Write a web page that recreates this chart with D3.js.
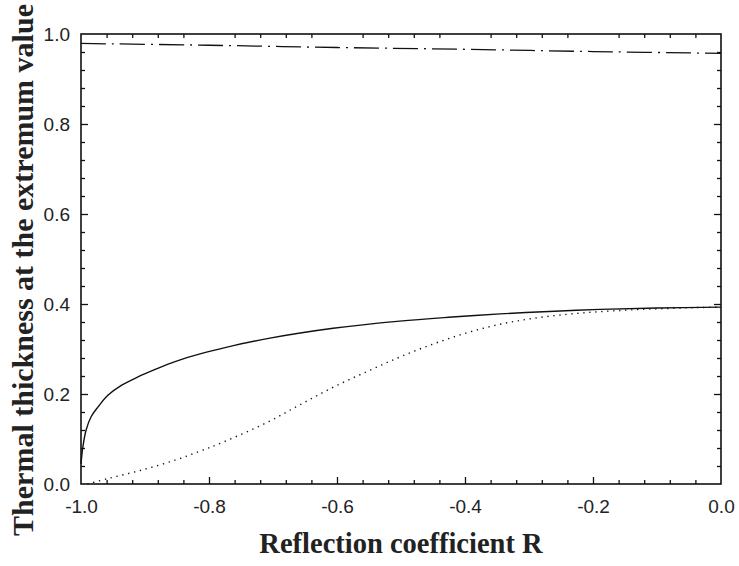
<!DOCTYPE html>
<html>
<head>
<meta charset="utf-8">
<script src="https://cdn.jsdelivr.net/npm/d3@7"></script>
<style>
  body { margin: 0; background: #fff; }
  svg { display: block; }
</style>
</head>
<body>
<script>
// data
const solidR = [-1.0, -0.997, -0.992, -0.984, -0.973, -0.958, -0.937, -0.911, -0.885, -0.853, -0.814, -0.775, -0.709, -0.606, -0.502, -0.42, -0.345, -0.26, -0.189, -0.1, 0.0]
const solidT = [0.045, 0.083, 0.12, 0.150, 0.172, 0.197, 0.219, 0.238, 0.254, 0.272, 0.289, 0.303, 0.323, 0.346, 0.362, 0.371, 0.378, 0.384, 0.388, 0.391, 0.393]

const dotR = [-0.99, -0.958, -0.905, -0.853, -0.814, -0.778, -0.709, -0.658, -0.606, -0.553, -0.502, -0.45, -0.397, -0.345, -0.294, -0.241, -0.189, -0.138, -0.084, -0.04, 0.0]
const dotT = [0.0, 0.012, 0.031, 0.053, 0.073, 0.093, 0.137, 0.176, 0.215, 0.250, 0.282, 0.311, 0.336, 0.355, 0.368, 0.377, 0.383, 0.387, 0.390, 0.392, 0.393]

const dashR = [-1.0, -0.8, -0.6, -0.4, -0.2, 0.0]
const dashT = [0.979, 0.975, 0.970, 0.966, 0.961, 0.957]

const xTicks = [-1.0, -0.8, -0.6, -0.4, -0.2, 0.0]
const yTicks = [0.0, 0.2, 0.4, 0.6, 0.8, 1.0]

const outerWidth = 739
const outerHeight = 566
const margin = { top: 34, right: 18, bottom: 82, left: 81 }

const svg = d3.select('body')
  .append('svg')
  .attr('width', outerWidth)
  .attr('height', outerHeight)

const xScale = d3.scaleLinear()
  .domain([-1, 0])
  .range([margin.left, outerWidth - margin.right])

const yScale = d3.scaleLinear()
  .domain([0, 1])
  .range([outerHeight - margin.bottom, margin.top])

const minorX = d3.range(-1, 0.0001, 0.04).map(v => +v.toFixed(2)).filter(v => !xTicks.some(t => Math.abs(t - v) < 1e-6))
const minorY = d3.range(0, 1.0001, 0.04).map(v => +v.toFixed(2)).filter(v => !yTicks.some(t => Math.abs(t - v) < 1e-6))

const tickFont = '"Liberation Sans", Arial, sans-serif'
const fmt = d => d.toFixed(1)
const xB = outerHeight - margin.bottom
const yL = margin.left
const xR = outerWidth - margin.right
const yT = margin.top

// bottom axis: labels + inward ticks
const bottom = svg.append('g').attr('transform', `translate(0,${xB})`)
bottom.call(d3.axisBottom(xScale).tickValues(xTicks).tickSize(-7).tickPadding(16).tickFormat(fmt))
bottom.selectAll('.tick').filter(d => d === -1 || d === 0).select('line').remove()
bottom.append('g').call(d3.axisBottom(xScale).tickValues(minorX).tickSize(-4).tickFormat(''))

// left axis
const left = svg.append('g').attr('transform', `translate(${yL},0)`)
left.call(d3.axisLeft(yScale).tickValues(yTicks).tickSize(-7).tickPadding(11).tickFormat(fmt))
left.selectAll('.tick').filter(d => d === 0 || d === 1).select('line').remove()
left.append('g').call(d3.axisLeft(yScale).tickValues(minorY).tickSize(-4).tickFormat(''))

// top axis: minor ticks only
svg.append('g').attr('transform', `translate(0,${yT})`)
  .call(d3.axisTop(xScale).tickValues(minorX).tickSize(-4).tickFormat(''))

// right axis
const right = svg.append('g').attr('transform', `translate(${xR},0)`)
right.call(d3.axisRight(yScale).tickValues(yTicks.filter(d => d > 0 && d < 1)).tickSize(-7).tickFormat(''))
right.append('g').call(d3.axisRight(yScale).tickValues(minorY).tickSize(-4).tickFormat(''))

svg.selectAll('.domain').remove()
svg.selectAll('.tick line').attr('stroke', '#111').attr('stroke-width', 1.3)
svg.selectAll('.tick text')
  .style('font-family', tickFont)
  .style('font-size', '19px')
  .attr('fill', '#222')

// frame
svg.append('rect')
  .attr('x', yL).attr('y', yT)
  .attr('width', xR - yL).attr('height', xB - yT)
  .attr('fill', 'none').attr('stroke', '#111').attr('stroke-width', 1.6)

// curves
const line = d3.line()
  .x(d => xScale(d[0]))
  .y(d => yScale(d[1]))
  .curve(d3.curveCatmullRom.alpha(0.5))

svg.append('path')
  .datum(solidR.map((r, i) => [r, solidT[i]]))
  .attr('d', line)
  .attr('fill', 'none')
  .attr('stroke', '#111')
  .attr('stroke-width', 1.4)

svg.append('path')
  .datum(dotR.map((r, i) => [r, dotT[i]]))
  .attr('d', line)
  .attr('fill', 'none')
  .attr('stroke', '#111')
  .attr('stroke-width', 1.4)
  .attr('stroke-dasharray', '1.3,4.7')

svg.append('path')
  .datum(dashR.map((r, i) => [r, dashT[i]]))
  .attr('d', line)
  .attr('fill', 'none')
  .attr('stroke', '#111')
  .attr('stroke-width', 1.3)
  .attr('stroke-dasharray', '25,6,2,6')

// axis titles
svg.append('text')
  .attr('x', (yL + xR) / 2)
  .attr('y', 553)
  .attr('text-anchor', 'middle')
  .style('font-family', '"Liberation Serif", "Times New Roman", serif')
  .style('font-weight', 'bold')
  .style('font-size', '28.5px')
  .attr('fill', '#222')
  .text('Reflection coefficient R')

svg.append('text')
  .attr('transform', 'translate(33,270) rotate(-90)')
  .attr('text-anchor', 'middle')
  .style('font-family', '"Liberation Serif", "Times New Roman", serif')
  .style('font-weight', 'bold')
  .style('font-size', '30px')
  .attr('fill', '#222')
  .text('Thermal thickness at the extremum value')
</script>
</body>
</html>
